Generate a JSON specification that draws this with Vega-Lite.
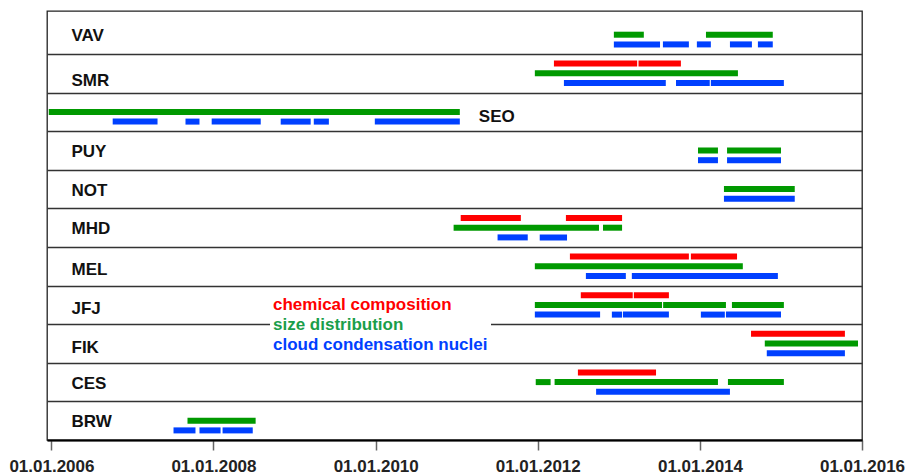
{
  "$schema": "https://vega.github.io/schema/vega-lite/v6.json",
  "width": 815,
  "height": 429,
  "autosize": "none",
  "padding": {"left": 47, "top": 11, "right": 43, "bottom": 35},
  "background": "white",
  "config": {
    "view": {"stroke": "#222", "strokeWidth": 1.3},
    "font": "Liberation Sans"
  },
  "data": {
    "values": [
      {"station": "VAV", "type": "size distribution", "start": "2012-12-09", "end": "2013-04-23"},
      {"station": "VAV", "type": "size distribution", "start": "2014-01-28", "end": "2014-11-25"},
      {"station": "VAV", "type": "cloud condensation nuclei", "start": "2012-12-09", "end": "2013-07-05"},
      {"station": "VAV", "type": "cloud condensation nuclei", "start": "2013-07-18", "end": "2013-11-12"},
      {"station": "VAV", "type": "cloud condensation nuclei", "start": "2013-12-18", "end": "2014-02-19"},
      {"station": "VAV", "type": "cloud condensation nuclei", "start": "2014-05-16", "end": "2014-08-23"},
      {"station": "VAV", "type": "cloud condensation nuclei", "start": "2014-09-19", "end": "2014-11-25"},
      {"station": "SMR", "type": "chemical composition", "start": "2012-03-14", "end": "2013-03-24"},
      {"station": "SMR", "type": "chemical composition", "start": "2013-03-30", "end": "2013-10-07"},
      {"station": "SMR", "type": "size distribution", "start": "2011-12-19", "end": "2014-06-21"},
      {"station": "SMR", "type": "cloud condensation nuclei", "start": "2012-04-28", "end": "2013-07-31"},
      {"station": "SMR", "type": "cloud condensation nuclei", "start": "2013-09-15", "end": "2014-02-14"},
      {"station": "SMR", "type": "cloud condensation nuclei", "start": "2014-02-19", "end": "2015-01-14"},
      {"station": "SEO", "type": "size distribution", "start": "2005-12-20", "end": "2011-01-15"},
      {"station": "SEO", "type": "cloud condensation nuclei", "start": "2006-10-04", "end": "2007-04-24"},
      {"station": "SEO", "type": "cloud condensation nuclei", "start": "2007-08-28", "end": "2007-10-30"},
      {"station": "SEO", "type": "cloud condensation nuclei", "start": "2007-12-24", "end": "2008-08-01"},
      {"station": "SEO", "type": "cloud condensation nuclei", "start": "2008-10-30", "end": "2009-03-14"},
      {"station": "SEO", "type": "cloud condensation nuclei", "start": "2009-03-28", "end": "2009-06-04"},
      {"station": "SEO", "type": "cloud condensation nuclei", "start": "2009-12-28", "end": "2011-01-15"},
      {"station": "PUY", "type": "size distribution", "start": "2013-12-23", "end": "2014-03-23"},
      {"station": "PUY", "type": "size distribution", "start": "2014-05-03", "end": "2015-01-01"},
      {"station": "PUY", "type": "cloud condensation nuclei", "start": "2013-12-23", "end": "2014-03-23"},
      {"station": "PUY", "type": "cloud condensation nuclei", "start": "2014-05-03", "end": "2015-01-01"},
      {"station": "NOT", "type": "size distribution", "start": "2014-04-19", "end": "2015-03-04"},
      {"station": "NOT", "type": "cloud condensation nuclei", "start": "2014-04-19", "end": "2015-03-04"},
      {"station": "MHD", "type": "chemical composition", "start": "2011-01-19", "end": "2011-10-17"},
      {"station": "MHD", "type": "chemical composition", "start": "2012-05-07", "end": "2013-01-15"},
      {"station": "MHD", "type": "size distribution", "start": "2010-12-18", "end": "2012-10-03"},
      {"station": "MHD", "type": "size distribution", "start": "2012-10-21", "end": "2013-01-15"},
      {"station": "MHD", "type": "cloud condensation nuclei", "start": "2011-07-04", "end": "2011-11-17"},
      {"station": "MHD", "type": "cloud condensation nuclei", "start": "2012-01-10", "end": "2012-05-12"},
      {"station": "MEL", "type": "chemical composition", "start": "2012-05-25", "end": "2013-11-12"},
      {"station": "MEL", "type": "chemical composition", "start": "2013-11-21", "end": "2014-06-17"},
      {"station": "MEL", "type": "size distribution", "start": "2011-12-19", "end": "2014-07-13"},
      {"station": "MEL", "type": "cloud condensation nuclei", "start": "2012-08-05", "end": "2013-02-01"},
      {"station": "MEL", "type": "cloud condensation nuclei", "start": "2013-02-28", "end": "2014-12-18"},
      {"station": "JFJ", "type": "chemical composition", "start": "2012-07-13", "end": "2013-03-04"},
      {"station": "JFJ", "type": "chemical composition", "start": "2013-03-09", "end": "2013-08-14"},
      {"station": "JFJ", "type": "size distribution", "start": "2011-12-19", "end": "2013-07-14"},
      {"station": "JFJ", "type": "size distribution", "start": "2013-07-19", "end": "2014-04-28"},
      {"station": "JFJ", "type": "size distribution", "start": "2014-05-25", "end": "2015-01-14"},
      {"station": "JFJ", "type": "cloud condensation nuclei", "start": "2011-12-19", "end": "2012-10-08"},
      {"station": "JFJ", "type": "cloud condensation nuclei", "start": "2012-11-30", "end": "2013-01-15"},
      {"station": "JFJ", "type": "cloud condensation nuclei", "start": "2013-01-19", "end": "2013-08-14"},
      {"station": "JFJ", "type": "cloud condensation nuclei", "start": "2014-01-05", "end": "2014-04-23"},
      {"station": "JFJ", "type": "cloud condensation nuclei", "start": "2014-04-28", "end": "2015-01-01"},
      {"station": "FIK", "type": "chemical composition", "start": "2014-08-19", "end": "2015-10-16"},
      {"station": "FIK", "type": "size distribution", "start": "2014-10-20", "end": "2015-12-14"},
      {"station": "FIK", "type": "cloud condensation nuclei", "start": "2014-10-29", "end": "2015-10-16"},
      {"station": "CES", "type": "chemical composition", "start": "2012-06-30", "end": "2013-06-17"},
      {"station": "CES", "type": "size distribution", "start": "2011-12-23", "end": "2012-02-28"},
      {"station": "CES", "type": "size distribution", "start": "2012-03-17", "end": "2014-03-23"},
      {"station": "CES", "type": "size distribution", "start": "2014-05-07", "end": "2015-01-14"},
      {"station": "CES", "type": "cloud condensation nuclei", "start": "2012-09-20", "end": "2014-05-16"},
      {"station": "BRW", "type": "size distribution", "start": "2007-09-06", "end": "2008-07-09"},
      {"station": "BRW", "type": "cloud condensation nuclei", "start": "2007-07-05", "end": "2007-10-12"},
      {"station": "BRW", "type": "cloud condensation nuclei", "start": "2007-10-30", "end": "2008-02-02"},
      {"station": "BRW", "type": "cloud condensation nuclei", "start": "2008-02-11", "end": "2008-06-26"}
    ]
  },
  "layer": [
    {
      "mark": {"type": "bar"},
      "encoding": {
        "x": {
          "field": "start",
          "type": "temporal",
          "scale": {
            "type": "utc",
            "domain": [
              {"year": 2005, "month": 12, "date": 12, "utc": true},
              {"year": 2016, "month": 1, "date": 1, "utc": true}
            ],
            "nice": false
          },
          "axis": {
            "title": null,
            "grid": false,
            "values": [
              {"year": 2006, "month": 1, "date": 1, "utc": true},
              {"year": 2008, "month": 1, "date": 1, "utc": true},
              {"year": 2010, "month": 1, "date": 1, "utc": true},
              {"year": 2012, "month": 1, "date": 1, "utc": true},
              {"year": 2014, "month": 1, "date": 1, "utc": true},
              {"year": 2016, "month": 1, "date": 1, "utc": true}
            ],
            "format": "%d.%m.%Y",
            "labelFontSize": 17,
            "labelFontWeight": "bold",
            "labelColor": "#222",
            "labelFlush": false,
            "labelOverlap": false,
            "labelPadding": 8,
            "tickSize": 10,
            "tickWidth": 1.5,
            "tickColor": "#666",
            "domainColor": "#000",
            "domainWidth": 2
          }
        },
        "x2": {"field": "end"},
        "y": {
          "field": "station",
          "type": "nominal",
          "sort": ["VAV", "SMR", "SEO", "PUY", "NOT", "MHD", "MEL", "JFJ", "FIK", "CES", "BRW"],
          "scale": {"paddingInner": 0, "paddingOuter": 0.057, "align": 1},
          "axis": {
            "title": null,
            "domain": false,
            "ticks": false,
            "tickSize": 0,
            "labelAlign": "left",
            "labelBaseline": "middle",
            "labelPadding": -24,
            "labelFontSize": 17,
            "labelFontWeight": "bold",
            "labelColor": "#111",
            "labelOffset": {"expr": "datum.value == 'SMR' ? 7 : (datum.value == 'MEL' || datum.value == 'JFJ' || datum.value == 'FIK') ? 3.5 : 1"},
            "labelExpr": "datum.value == 'SEO' ? '' : datum.value",
            "grid": true,
            "tickBand": "extent",
            "gridColor": {"condition": {"test": "!!datum.extra", "value": "transparent"}, "value": "#333"},
            "gridWidth": 1.3
          }
        },
        "yOffset": {
          "field": "type",
          "type": "nominal",
          "sort": ["chemical composition", "size distribution", "cloud condensation nuclei"],
          "scale": {"paddingInner": 0.38, "paddingOuter": 0.68}
        },
        "color": {
          "field": "type",
          "type": "nominal",
          "scale": {
            "domain": ["chemical composition", "size distribution", "cloud condensation nuclei"],
            "range": ["#ff0000", "#009900", "#0040ff"]
          },
          "legend": {
            "title": null,
            "orient": "none",
            "legendX": 223,
            "legendY": 282,
            "fillColor": "white",
            "padding": 3,
            "symbolSize": 0,
            "symbolOpacity": 0,
            "symbolStrokeWidth": 0,
            "labelOffset": -17,
            "labelFontSize": 17,
            "labelFontWeight": "bold",
            "labelLimit": 400,
            "rowPadding": 2,
            "labelColor": {"expr": "datum.value == 'chemical composition' ? '#ff0000' : datum.value == 'size distribution' ? '#1a9e4a' : '#0040ff'"}
          }
        }
      }
    },
    {
      "transform": [{"filter": "datum.station == 'SEO' && datum.type == 'size distribution'"}],
      "mark": {"type": "text", "align": "left", "baseline": "middle", "dx": 19, "dy": 5, "fontSize": 17, "fontWeight": "bold", "color": "#111"},
      "encoding": {
        "x": {"field": "end", "type": "temporal"},
        "y": {
          "field": "station",
          "type": "nominal",
          "sort": ["VAV", "SMR", "SEO", "PUY", "NOT", "MHD", "MEL", "JFJ", "FIK", "CES", "BRW"]
        },
        "text": {"field": "station"}
      }
    }
  ]
}
